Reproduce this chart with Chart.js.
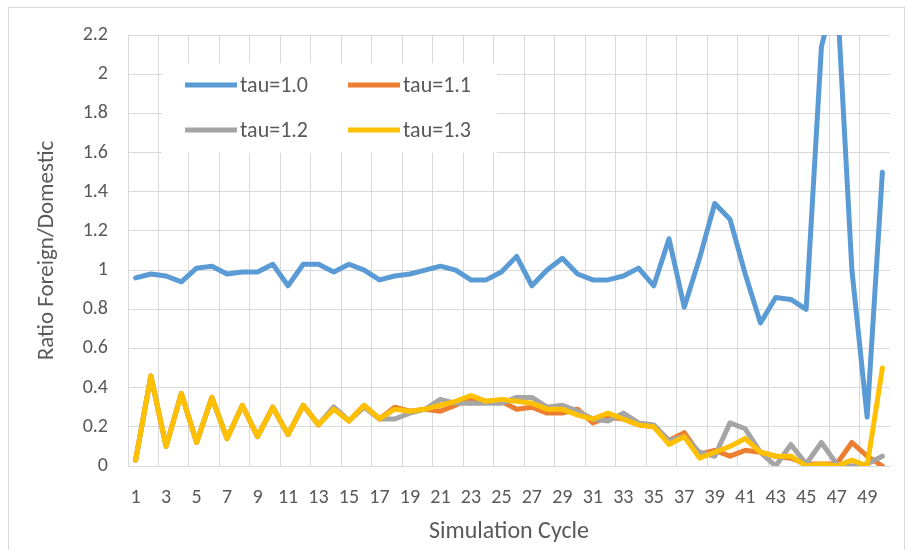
<!DOCTYPE html>
<html>
<head>
<meta charset="utf-8">
<script src="https://cdn.jsdelivr.net/npm/chart.js@4/dist/chart.umd.min.js"></script>
<style>
  html, body { margin: 0; padding: 0; background: #fff; }
  #wrap { width: 909px; height: 550px; }
</style>
</head>
<body>
<div id="wrap"><canvas id="lineChart" width="909" height="550"></canvas></div>
<script>
// simulation cycles 1..50
const cycles = [];
for (let i = 1; i <= 50; i++) cycles.push(String(i));

const tau10 = [0.96, 0.98, 0.97, 0.94, 1.01, 1.02, 0.98, 0.99, 0.99, 1.03,
               0.92, 1.03, 1.03, 0.99, 1.03, 1.00, 0.95, 0.97, 0.98, 1.00,
               1.02, 1.00, 0.95, 0.95, 0.99, 1.07, 0.92, 1.00, 1.06, 0.98,
               0.95, 0.95, 0.97, 1.01, 0.92, 1.16, 0.81, 1.06, 1.34, 1.26,
               0.98, 0.73, 0.86, 0.85, 0.80, 2.14, 2.45, 1.00, 0.25, 1.50];

const tau11 = [0.03, 0.46, 0.10, 0.37, 0.12, 0.35, 0.14, 0.31, 0.15, 0.30,
               0.16, 0.31, 0.21, 0.30, 0.23, 0.31, 0.24, 0.30, 0.28, 0.29,
               0.28, 0.31, 0.35, 0.33, 0.33, 0.29, 0.30, 0.27, 0.27, 0.29,
               0.22, 0.25, 0.24, 0.21, 0.20, 0.13, 0.17, 0.06, 0.08, 0.05,
               0.08, 0.07, 0.05, 0.04, 0.01, 0.01, 0.01, 0.12, 0.05, 0.00];

const tau12 = [0.03, 0.46, 0.10, 0.37, 0.12, 0.35, 0.14, 0.31, 0.15, 0.30,
               0.16, 0.31, 0.21, 0.30, 0.23, 0.30, 0.24, 0.24, 0.27, 0.29,
               0.34, 0.32, 0.32, 0.32, 0.32, 0.35, 0.35, 0.30, 0.31, 0.28,
               0.24, 0.23, 0.27, 0.22, 0.21, 0.13, 0.15, 0.07, 0.05, 0.22,
               0.19, 0.07, 0.00, 0.11, 0.01, 0.12, 0.01, 0.00, 0.01, 0.05];

const tau13 = [0.03, 0.46, 0.10, 0.37, 0.12, 0.35, 0.14, 0.31, 0.15, 0.30,
               0.16, 0.31, 0.21, 0.29, 0.23, 0.31, 0.24, 0.29, 0.28, 0.29,
               0.31, 0.33, 0.36, 0.33, 0.34, 0.33, 0.32, 0.29, 0.29, 0.26,
               0.24, 0.27, 0.24, 0.21, 0.20, 0.11, 0.15, 0.04, 0.07, 0.10,
               0.14, 0.07, 0.05, 0.05, 0.00, 0.01, 0.00, 0.03, 0.00, 0.50];

const seriesNames = ['tau=1.0', 'tau=1.1', 'tau=1.2', 'tau=1.3'];
const seriesColors = ['#5B9BD5', '#ED7D31', '#A5A5A5', '#FFC000'];

const textColor = '#595959';
const gridColor = '#d9d9d9';
const fontFamily = 'Carlito, Lato, sans-serif';
const lineW = 5;

// legend drawn inside the plot, two columns like the original
const insideLegend = {
  id: 'insideLegend',
  afterDraw(chart) {
    const ctx = chart.ctx;
    ctx.save();
    ctx.fillStyle = '#fff';
    ctx.fillRect(162, 63, 335, 90);
    chart.data.datasets.forEach((ds, i) => {
      const x = i % 2 === 0 ? 185 : 348;
      const y = i < 2 ? 85 : 130;
      ctx.strokeStyle = ds.borderColor;
      ctx.lineWidth = lineW;
      ctx.beginPath();
      ctx.moveTo(x, y);
      ctx.lineTo(x + 52, y);
      ctx.stroke();
      ctx.fillStyle = textColor;
      ctx.font = '22px ' + fontFamily;
      ctx.textAlign = 'left';
      ctx.textBaseline = 'middle';
      ctx.fillText(ds.label, x + 55, y + 1);
    });
    ctx.restore();
  }
};

const frame = {
  id: 'frame',
  beforeDraw(chart) {
    const ctx = chart.ctx;
    ctx.save();
    ctx.fillStyle = '#fff';
    ctx.fillRect(0, 0, chart.width, chart.height);
    ctx.strokeStyle = gridColor;
    ctx.lineWidth = 1;
    ctx.strokeRect(8.5, 7.5, 896, 545);
    ctx.restore();
  }
};

// yellow on top, blue at the bottom
const drawOrder = [3, 2, 1, 0];

const datasets = [tau10, tau11, tau12, tau13].map((vals, i) => ({
  label: seriesNames[i],
  data: vals,
  order: drawOrder[i],
  borderColor: seriesColors[i],
  backgroundColor: seriesColors[i],
  borderWidth: lineW,
  pointRadius: 0,
  tension: 0,
  borderJoinStyle: 'round',
  borderCapStyle: 'round'
}));

new Chart(document.getElementById('lineChart').getContext('2d'), {
  type: 'line',
  data: { labels: cycles, datasets: datasets },
  options: {
    responsive: false,
    animation: false,
    layout: { padding: { left: 0, right: 19, top: 35, bottom: 0 } },
    plugins: {
      legend: { display: false },
      tooltip: { enabled: false }
    },
    scales: {
      x: {
        offset: true,
        grid: {
          offset: true,
          drawTicks: false,
          color: c => (c.index % 2 === 0 ? gridColor : 'rgba(0,0,0,0)'),
          lineWidth: 1
        },
        border: { display: false },
        ticks: {
          autoSkip: false,
          maxRotation: 0,
          padding: 20,
          color: textColor,
          font: { size: 20, family: fontFamily },
          callback: (v, i) => (i % 2 === 0 ? cycles[i] : '')
        },
        title: {
          display: true,
          text: 'Simulation Cycle',
          color: textColor,
          font: { size: 24, family: fontFamily },
          padding: { top: 0, bottom: 4 }
        },
        afterFit: s => { s.height = 84; }
      },
      y: {
        min: 0,
        max: 2.2,
        grid: { color: gridColor, drawTicks: false },
        border: { display: false },
        ticks: {
          stepSize: 0.2,
          padding: 20,
          color: textColor,
          font: { size: 20, family: fontFamily },
          callback: v => String(Number(v.toFixed(1)))
        },
        title: {
          display: true,
          text: 'Ratio Foreign/Domestic',
          color: textColor,
          font: { size: 23, family: fontFamily },
          padding: { top: 33, bottom: 0 }
        },
        afterFit: s => { s.width = 128; }
      }
    }
  },
  plugins: [frame, insideLegend]
});
</script>
</body>
</html>
